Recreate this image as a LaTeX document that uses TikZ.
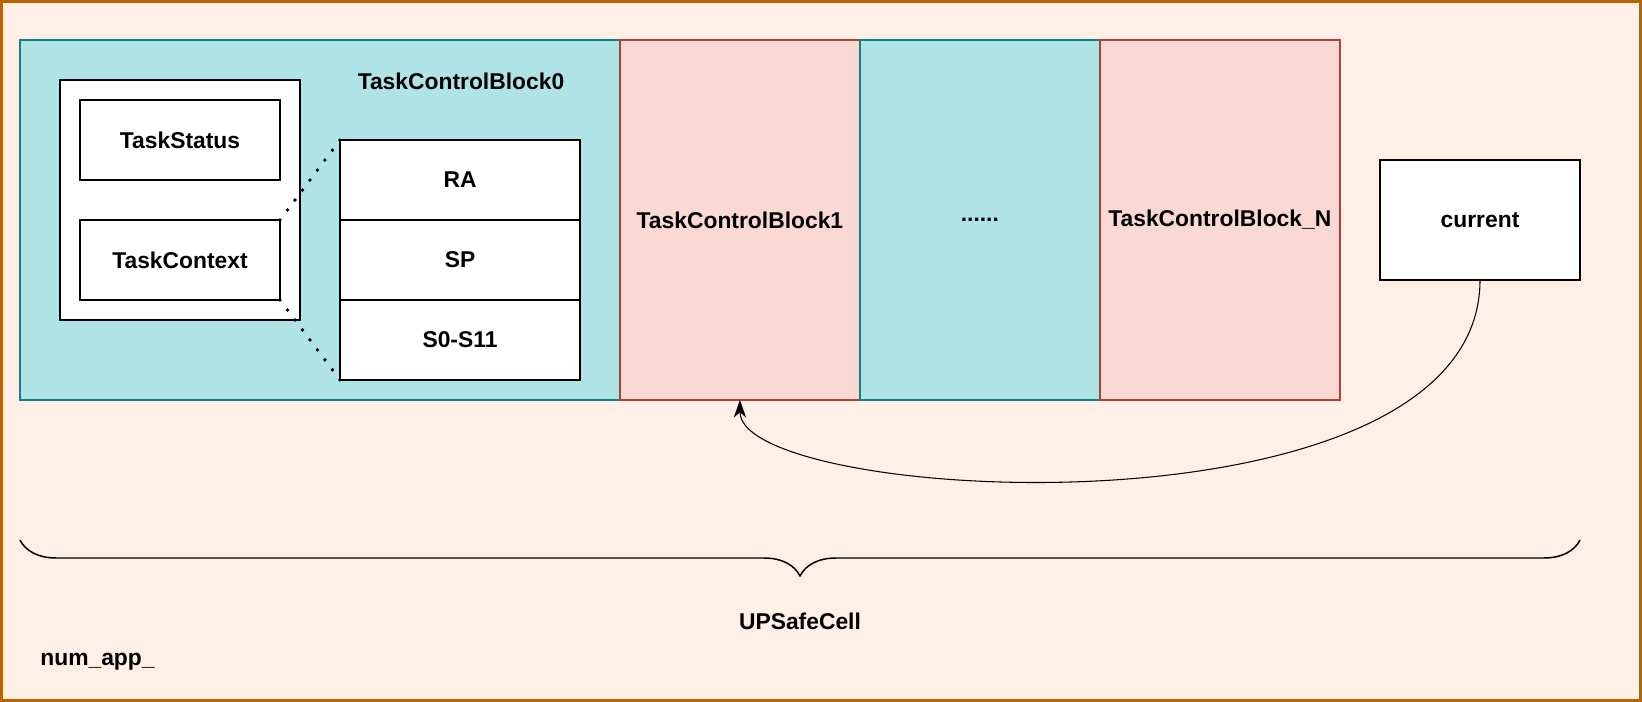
\documentclass[tikz,border=0pt]{standalone}
\usepackage{fontspec}
\setmainfont{Liberation Sans}
\usetikzlibrary{positioning}
\usetikzlibrary{arrows.meta}
\usetikzlibrary{decorations.pathreplacing}
\definecolor{cellbg}{HTML}{FFEFE6}
\definecolor{cellframe}{HTML}{B46504}
\definecolor{tealfill}{HTML}{B0E3E6}
\definecolor{tealline}{HTML}{0E8088}
\definecolor{redfill}{HTML}{FAD9D5}
\definecolor{redline}{HTML}{AE4132}

\begin{document}
\begin{tikzpicture}[x=0.02cm,y=-0.02cm,
  font=\fontsize{13}{15}\selectfont\bfseries,
  tcbteal/.style={draw=tealline,fill=tealfill,line width=0.85pt,minimum width=4.8cm,minimum height=7.2cm,inner sep=0pt,outer sep=0pt},
  tcbred/.style={draw=redline,fill=redfill,line width=0.85pt,minimum width=4.8cm,minimum height=7.2cm,inner sep=0pt,outer sep=0pt},
  field/.style={draw=black,fill=white,line width=1.13pt,minimum width=4cm,minimum height=1.6cm,inner sep=0pt,outer sep=0pt},
  reg/.style={field,minimum width=4.8cm},
  ctxlink/.style={dash pattern=on 0pt off 7.1pt,line cap=round,line width=2.2pt}]
 \useasboundingbox (0,0) rectangle (1642,702);
 \draw[cellframe,fill=cellbg,line width=1.5pt] (1.3,1.3) rectangle (1640.7,700.7);
 % task control blocks
 \node[tcbteal,minimum width=12cm] (tcb0) at (320,220) {};
 \node[tcbred,right=0pt of tcb0] (tcb1) {TaskControlBlock1};
 \node[tcbteal,right=0pt of tcb1] (tcbdots) {......};
 \node[tcbred,right=0pt of tcbdots] (tcbN) {TaskControlBlock\_N};
 \node (tcb0lbl) at (461,81) {TaskControlBlock0};
 \node[field,minimum width=4.8cm,minimum height=4.8cm] (tcbstruct) at (180,200) {};
 \node[field] (status) at (180,140) {TaskStatus};
 \node[field] (context) at (180,260) {TaskContext};
 \node[reg] (ra) at (460,180) {RA};
 \node[reg,below=0pt of ra] (sp) {SP};
 \node[reg,below=0pt of sp] (sregs) {S0-S11};
 \draw[ctxlink] (context.north east) -- (ra.north west);
 \draw[ctxlink] (context.south east) -- (sregs.south west);
 % current pointer
 \node[field,minimum height=2.4cm] (current) at (1480,220) {current};
 \draw[-{Stealth[length=10pt,width=7pt,inset=3pt]},line width=0.6pt] (current.south) .. controls (1480,545) and (740,505) .. (tcb1.south);
 % UPSafeCell
 \coordinate (braceL) at (20,540);
 \coordinate (braceR) at (1580,540);
 \draw[decorate,decoration={brace,mirror,amplitude=0.72cm},line width=0.85pt] (braceL) -- (braceR);
 \node (upsafe) at (800,621) {UPSafeCell};
 \node[anchor=west,inner sep=0pt] (numapp) at (40,662) {num\_app\_};
\end{tikzpicture}
\end{document}
